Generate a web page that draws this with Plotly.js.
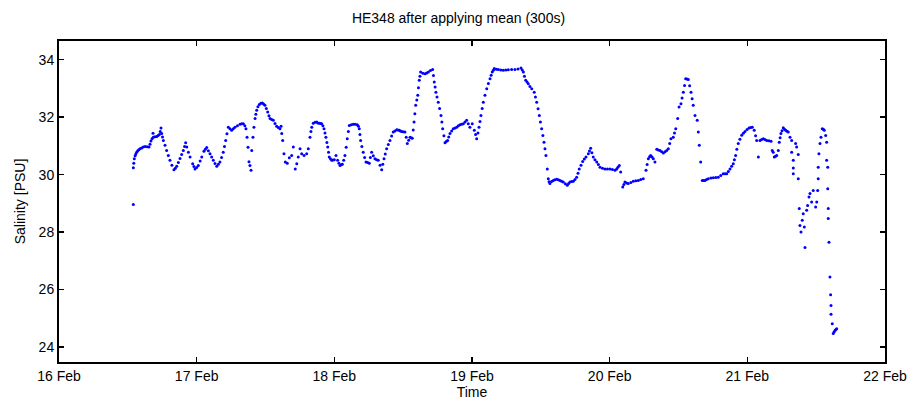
<!DOCTYPE html>
<html><head><meta charset="utf-8">
<script src="https://cdn.plot.ly/plotly-3.0.1.min.js"></script>
<style>body{margin:0;background:#fff}</style>
</head><body><div id="chart" style="width:917px;height:405px"></div>
<script>
// Time as decimal day of February, salinity in PSU
const dayOfFeb = [
16.540,16.540,16.543,16.547,16.553,16.558,16.564,16.572,16.580,16.588,
16.600,16.612,16.625,16.640,16.654,16.661,16.668,16.676,16.683,16.685,
16.697,16.710,16.720,16.729,16.735,16.741,16.746,16.752,16.758,16.770,
16.782,16.794,16.806,16.820,16.835,16.845,16.855,16.867,16.879,16.891,
16.903,16.912,16.920,16.928,16.940,16.952,16.971,16.980,16.988,17.000,
17.012,17.025,17.037,17.053,17.063,17.073,17.085,17.097,17.109,17.121,
17.133,17.146,17.158,17.169,17.181,17.193,17.202,17.211,17.220,17.230,
17.242,17.254,17.266,17.278,17.296,17.315,17.327,17.339,17.350,17.358,
17.366,17.373,17.380,17.387,17.395,17.400,17.409,17.416,17.424,17.430,
17.436,17.445,17.455,17.466,17.477,17.486,17.496,17.506,17.516,17.525,
17.533,17.545,17.557,17.569,17.581,17.593,17.605,17.613,17.618,17.625,
17.634,17.644,17.658,17.673,17.690,17.702,17.716,17.727,17.738,17.751,
17.763,17.780,17.799,17.811,17.823,17.830,17.836,17.847,17.860,17.872,
17.880,17.891,17.900,17.908,17.917,17.925,17.932,17.939,17.946,17.952,
17.958,17.963,17.972,17.981,17.990,18.000,18.012,18.024,18.033,18.041,
18.050,18.058,18.068,18.077,18.086,18.094,18.102,18.109,18.124,18.138,
18.152,18.167,18.175,18.181,18.186,18.191,18.200,18.210,18.220,18.230,
18.242,18.254,18.262,18.271,18.283,18.295,18.307,18.319,18.332,18.344,
18.352,18.361,18.370,18.380,18.392,18.404,18.416,18.428,18.440,18.453,
18.462,18.472,18.480,18.489,18.500,18.513,18.522,18.530,18.540,18.550,
18.558,18.566,18.573,18.579,18.585,18.591,18.599,18.606,18.611,18.617,
18.622,18.627,18.643,18.659,18.671,18.683,18.698,18.714,18.720,18.726,
18.732,18.738,18.746,18.755,18.765,18.775,18.781,18.787,18.796,18.804,
18.813,18.823,18.831,18.840,18.852,18.864,18.877,18.889,18.901,18.913,
18.925,18.937,18.949,18.961,18.973,18.985,19.002,19.017,19.026,19.034,
19.043,19.051,19.058,19.065,19.074,19.082,19.094,19.107,19.119,19.131,
19.139,19.147,19.155,19.162,19.177,19.191,19.209,19.227,19.245,19.264,
19.288,19.312,19.334,19.356,19.365,19.373,19.381,19.390,19.400,19.409,
19.421,19.434,19.452,19.461,19.470,19.480,19.489,19.497,19.506,19.515,
19.523,19.530,19.537,19.547,19.554,19.560,19.566,19.578,19.590,19.602,
19.615,19.627,19.639,19.651,19.663,19.678,19.692,19.702,19.712,19.724,
19.736,19.748,19.760,19.770,19.779,19.792,19.804,19.816,19.828,19.845,
19.853,19.862,19.871,19.881,19.893,19.906,19.918,19.930,19.948,19.966,
19.984,20.002,20.020,20.039,20.051,20.060,20.070,20.080,20.095,20.103,
20.111,20.123,20.135,20.154,20.172,20.190,20.208,20.226,20.244,20.264,
20.272,20.281,20.290,20.298,20.308,20.317,20.329,20.342,20.354,20.366,
20.378,20.390,20.402,20.414,20.426,20.436,20.445,20.462,20.471,20.480,
20.494,20.504,20.518,20.526,20.535,20.544,20.552,20.562,20.571,20.581,
20.591,20.599,20.607,20.620,20.636,20.644,20.651,20.661,20.673,20.682,
20.692,20.704,20.716,20.735,20.753,20.771,20.789,20.807,20.825,20.838,
20.850,20.862,20.874,20.886,20.898,20.906,20.915,20.924,20.934,20.946,
20.959,20.971,20.983,20.998,21.012,21.024,21.036,21.050,21.060,21.068,
21.080,21.092,21.104,21.116,21.128,21.141,21.156,21.172,21.181,21.188,
21.196,21.205,21.213,21.225,21.232,21.238,21.244,21.252,21.261,21.270,
21.279,21.288,21.297,21.310,21.322,21.322,21.334,21.334,21.334,21.351,
21.358,21.370,21.370,21.377,21.382,21.390,21.399,21.406,21.414,21.419,
21.431,21.438,21.448,21.455,21.467,21.479,21.496,21.504,21.511,21.515,
21.515,21.520,21.528,21.535,21.544,21.552,21.559,21.569,21.576,21.576,
21.584,21.584,21.588,21.588,21.593,21.600,21.605,21.608,21.608,21.617,
21.624,21.630,21.637,21.643,21.649
];
const salinity = [
28.96,30.24,30.40,30.55,30.66,30.72,30.78,30.83,30.87,30.90,
30.93,30.96,30.98,30.97,30.96,31.06,31.17,31.25,31.44,31.30,
31.32,31.33,31.36,31.40,31.50,31.62,31.43,31.31,31.19,31.02,
30.84,30.67,30.50,30.33,30.17,30.22,30.29,30.42,30.56,30.70,
30.84,30.98,31.11,30.96,30.78,30.61,30.38,30.28,30.20,30.25,
30.32,30.47,30.61,30.81,30.88,30.94,30.83,30.73,30.61,30.50,
30.39,30.29,30.36,30.44,30.60,30.78,30.98,31.19,31.42,31.65,
31.60,31.54,31.60,31.65,31.70,31.75,31.77,31.77,31.70,31.60,
31.30,30.95,30.45,30.32,30.15,30.84,31.30,31.65,31.95,32.10,
32.24,32.36,32.44,32.48,32.49,32.46,32.41,32.30,32.18,32.05,
31.95,31.92,31.89,31.78,31.68,31.64,31.60,31.68,31.43,31.19,
30.73,30.44,30.40,30.59,30.67,30.96,30.20,30.38,30.61,30.90,
30.73,30.67,30.73,30.90,31.30,31.50,31.65,31.79,31.82,31.83,
31.80,31.79,31.78,31.77,31.70,31.60,31.45,31.30,31.12,30.96,
30.78,30.61,30.55,30.50,30.51,30.52,30.67,30.50,30.40,30.32,
30.34,30.36,30.50,30.67,30.95,31.25,31.50,31.71,31.74,31.75,
31.75,31.74,31.68,31.60,31.40,31.19,30.98,30.78,30.60,30.44,
30.42,30.40,30.60,30.78,30.66,30.55,30.52,30.50,30.33,30.17,
30.36,30.55,30.72,30.90,31.05,31.19,31.34,31.48,31.52,31.56,
31.55,31.54,31.52,31.50,31.49,31.48,31.30,31.08,31.20,31.30,
31.28,31.27,31.55,31.83,32.12,32.41,32.60,32.76,33.02,33.28,
33.42,33.57,33.53,33.51,33.54,33.57,33.62,33.66,33.45,33.22,
33.05,32.87,32.70,32.52,32.30,32.06,31.83,31.60,31.35,31.11,
31.15,31.19,31.31,31.43,31.52,31.60,31.62,31.65,31.70,31.74,
31.75,31.77,31.83,31.89,31.77,31.65,31.77,31.54,31.40,31.25,
31.45,31.65,31.85,32.06,32.30,32.52,32.76,32.99,33.17,33.34,
33.46,33.57,33.63,33.69,33.67,33.66,33.64,33.63,33.64,33.65,
33.66,33.66,33.68,33.71,33.64,33.57,33.42,33.28,33.22,33.16,
33.07,32.99,32.87,32.70,32.52,32.29,32.06,31.83,31.60,31.36,
31.13,30.90,30.67,30.20,29.86,29.75,29.69,29.76,29.80,29.82,
29.84,29.82,29.80,29.77,29.74,29.68,29.63,29.69,29.74,29.76,
29.77,29.83,29.91,30.05,30.20,30.33,30.46,30.54,30.61,30.73,
30.82,30.92,30.76,30.61,30.52,30.44,30.35,30.26,30.22,30.20,
30.20,30.20,30.18,30.15,30.20,30.26,30.32,30.09,29.57,29.66,
29.74,29.71,29.69,29.73,29.77,29.79,29.80,29.83,29.86,30.15,
30.35,30.55,30.62,30.67,30.61,30.55,30.44,30.88,30.86,30.84,
30.80,30.75,30.80,30.84,30.90,31.08,31.25,31.30,31.45,31.60,
31.95,32.35,32.47,32.67,32.87,33.10,33.34,33.33,33.31,33.09,
32.87,32.64,32.41,32.06,31.89,31.48,31.02,30.44,29.80,29.80,
29.80,29.83,29.86,29.88,29.89,29.90,29.91,29.97,30.03,30.03,
30.03,30.11,30.20,30.29,30.38,30.52,30.67,30.88,31.08,31.23,
31.37,31.44,31.50,31.57,31.62,31.64,31.65,31.54,31.35,31.19,
30.61,31.19,31.22,31.25,31.22,31.19,31.18,31.16,30.84,30.78,
30.61,30.64,30.67,30.84,31.13,31.28,31.43,31.53,31.63,31.58,
31.54,31.51,31.48,31.30,31.19,30.78,30.50,30.23,30.03,31.08,
30.96,30.70,29.86,28.82,28.23,28.00,28.41,28.64,28.18,27.46,
28.76,28.93,29.22,29.34,29.05,29.45,28.87,29.05,29.45,29.86,
30.26,30.73,31.08,31.30,31.60,31.58,31.54,31.36,31.13,30.50,
30.26,29.51,28.82,28.47,27.65,26.44,25.82,25.45,25.14,24.81,
24.47,24.52,24.58,24.61,24.64
];
const xTickDays = [16,17,18,19,20,21,22];
const xTickLabels = ['16 Feb','17 Feb','18 Feb','19 Feb','20 Feb','21 Feb','22 Feb'];
const yTickVals = [24,26,28,30,32,34];

function toDate(d){
  const ms = Date.UTC(2000,1,1) + (d-1)*86400000;
  return new Date(ms).toISOString().replace('T',' ').slice(0,19);
}

const font = {family:'"Liberation Sans", Arial, Helvetica, sans-serif', size:14, color:'#000'};
const trace = {
  type:'scatter', mode:'markers',
  x: dayOfFeb.map(toDate), y: salinity,
  marker:{color:'#0000ff', size:3, line:{width:0}},
  hoverinfo:'skip', showlegend:false
};
const axisCommon = {
  showline:true, linecolor:'#000', linewidth:2, mirror:'ticks',
  ticks:'inside', ticklen:5, tickwidth:1.5, tickcolor:'#000',
  showgrid:false, zeroline:false, tickfont:font
};
const layout = {
  width:917, height:405,
  margin:{l:59, r:32, t:41, b:43},
  paper_bgcolor:'#fff', plot_bgcolor:'#fff',
  font: font,
  title:{text:'HE348 after applying mean (300s)', font:font, x:0.5, xanchor:'center', y:0.955, yanchor:'middle'},
  xaxis: Object.assign({}, axisCommon, {
    type:'date', range:[toDate(16), toDate(22)],
    tickmode:'array', tickvals:xTickDays.map(toDate), ticktext:xTickLabels,
    title:{text:'Time', font:font, standoff:4}
  }),
  yaxis: Object.assign({}, axisCommon, {
    range:[23.48, 34.65], tickmode:'array', tickvals:yTickVals, ticktext:yTickVals.map(String),
    title:{text:'Salinity [PSU]', font:font, standoff:10}
  })
};
Plotly.newPlot('chart', [trace], layout, {staticPlot:true, displayModeBar:false});
</script>
</body></html>
